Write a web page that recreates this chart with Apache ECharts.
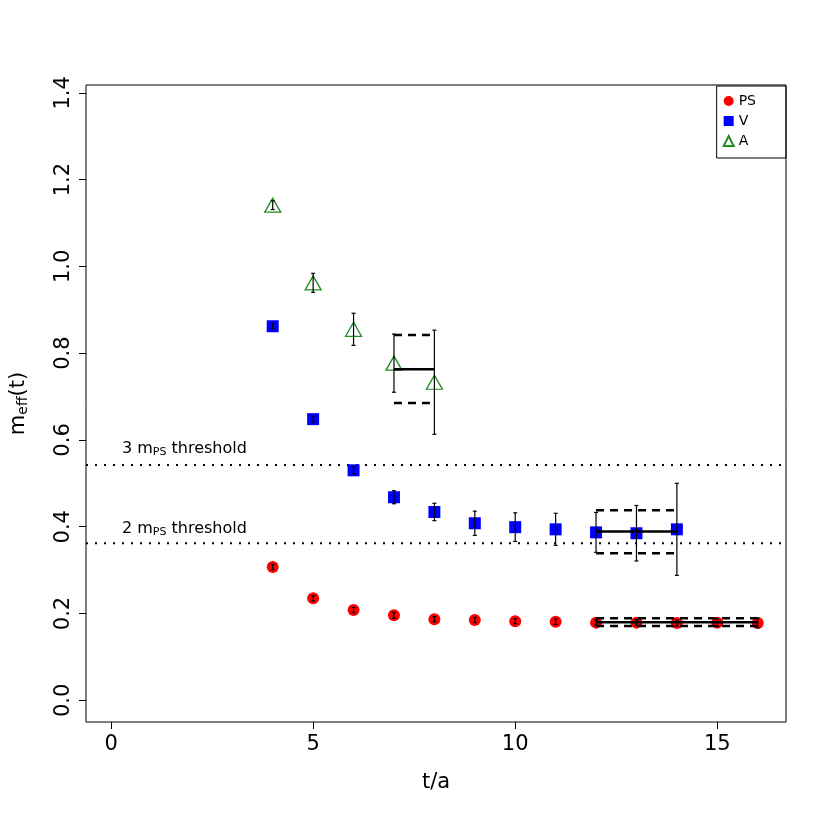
<!DOCTYPE html>
<html><head><meta charset="utf-8">
<script src="https://cdn.jsdelivr.net/npm/echarts@6/dist/echarts.min.js"></script>
<style>html,body{margin:0;padding:0;background:#fff}#c{width:830px;height:830px}</style>
</head><body><div id="c"></div>
<script>
const psT = [4,5,6,7,8,9,10,11,12,13,14,15,16];
const psY = [0.307,0.235,0.208,0.196,0.187,0.185,0.182,0.181,0.179,0.179,0.178,0.179,0.178];
const psE = [0.006,0.006,0.006,0.007,0.006,0.006,0.006,0.006,0.006,0.007,0.007,0.009,0.011];
const vT = [4,5,6,7,8,9,10,11,12,13,14];
const vY = [0.862,0.648,0.530,0.468,0.434,0.408,0.399,0.394,0.387,0.385,0.394];
const vE = [0.006,0.007,0.008,0.015,0.02,0.028,0.033,0.037,0.046,0.064,0.106];
const aT = [4,5,6,7,8];
const aY = [1.141,0.962,0.855,0.777,0.733];
const aE = [0.01,0.022,0.037,0.067,0.12];
const fitPS = {t0:12,t1:16,m:0.180,lo:0.171,hi:0.189};
const fitV = {t0:12,t1:14,m:0.389,lo:0.339,hi:0.438};
const fitA = {t0:7,t1:8,m:0.763,lo:0.685,hi:0.842};
const thr3 = 0.542, thr2 = 0.362;
const xTicks = [0,5,10,15];
const yTicks = [0,0.2,0.4,0.6,0.8,1.0,1.2,1.4];

const chart = echarts.init(document.getElementById('c'));
function errSeries(T,Y,E){
  return {type:'custom',silent:true,z:5,data:T.map((t,i)=>[t,Y[i]-E[i],Y[i]+E[i]]),
    renderItem:(p,api)=>{
      const a=api.coord([api.value(0),api.value(1)]), b=api.coord([api.value(0),api.value(2)]);
      const st={stroke:'#000',lineWidth:1.2};
      return {type:'group',children:[
        {type:'line',shape:{x1:a[0],y1:a[1],x2:b[0],y2:b[1]},style:st},
        {type:'line',shape:{x1:a[0]-2,y1:a[1],x2:a[0]+2,y2:a[1]},style:st},
        {type:'line',shape:{x1:b[0]-2,y1:b[1],x2:b[0]+2,y2:b[1]},style:st}]};
    }};
}
function fitSeries(f){
  const mk=(v,dash,w)=>({type:'line',silent:true,symbol:'none',z:4,data:[[f.t0,v],[f.t1,v]],
    lineStyle:{color:'#000',width:w,type:dash?[8,6]:'solid'}});
  return [mk(f.m,false,2.5),mk(f.lo,true,2.5),mk(f.hi,true,2.5)];
}
function thrLine(v){
  return {type:'line',silent:true,symbol:'none',data:[[-0.62,v],[16.7,v]],
    lineStyle:{color:'#000',width:2,type:[2,7]}};
}
const rich={a:{fontSize:16,fill:'#000',color:'#000',fontFamily:'DejaVu Sans'},b:{fontSize:11,fill:'#000',color:'#000',fontFamily:'DejaVu Sans',padding:[7,0,0,0]}};
chart.setOption({
  animation:false,
  grid:{left:86,right:44,top:85,bottom:108,show:true,borderColor:'#000',borderWidth:1},
  xAxis:{type:'value',min:-0.62,max:16.7,interval:5,
    axisLine:{show:false,onZero:false},splitLine:{show:false},
    axisTick:{show:true,length:7,lineStyle:{color:'#000'},customValues:xTicks},
    axisLabel:{color:'#000',fontSize:21,fontFamily:'DejaVu Sans',margin:12,customValues:xTicks},
    name:'t/a',nameLocation:'middle',nameGap:50,nameTextStyle:{color:'#000',fontSize:21,fontFamily:'DejaVu Sans'}},
  yAxis:{type:'value',min:-0.05,max:1.418,
    axisLine:{show:false,onZero:false},splitLine:{show:false},
    axisTick:{show:true,length:7,lineStyle:{color:'#000'},customValues:yTicks},
    axisLabel:{color:'#000',fontSize:21,fontFamily:'DejaVu Sans',rotate:90,margin:12,
      customValues:yTicks,formatter:v=>v.toFixed(1)},
    name:'{a|m}{b|eff}{a|(t)}',nameLocation:'middle',nameGap:56,nameRotate:90,
    nameTextStyle:{rich:{a:{fontSize:21,color:'#000',fontFamily:'DejaVu Sans'},b:{fontSize:14,color:'#000',fontFamily:'DejaVu Sans',padding:[9,0,0,0]}}}},
  legend:{right:44,top:86,orient:'vertical',borderColor:'#000',borderWidth:1,borderRadius:0,
    padding:[8,30,10,6],itemGap:6,itemWidth:10,itemHeight:10,
    textStyle:{fontSize:14,color:'#000',fontFamily:'DejaVu Sans'},data:['PS','V','A']},
  graphic:[
    {type:'text',left:122,top:441,style:{rich,text:'{a|3 m}{b|PS}{a| threshold}'}},
    {type:'text',left:122,top:521,style:{rich,text:'{a|2 m}{b|PS}{a| threshold}'}}
  ],
  series:[
    thrLine(thr3),thrLine(thr2),
    ...fitSeries(fitPS),...fitSeries(fitV),...fitSeries(fitA),
    {name:'PS',type:'scatter',symbol:'circle',symbolSize:12,z:3,itemStyle:{color:'#ff0000',opacity:1},data:psT.map((t,i)=>[t,psY[i]])},
    {name:'V',type:'scatter',symbol:'rect',symbolSize:12,z:3,itemStyle:{color:'#0000ff',opacity:1},data:vT.map((t,i)=>[t,vY[i]])},
    {name:'A',type:'scatter',symbol:'triangle',symbolSize:[16,14],z:3,itemStyle:{color:'rgba(0,0,0,0)',borderColor:'#228b22',borderWidth:1.3,opacity:1},data:aT.map((t,i)=>[t,aY[i]])},
    errSeries(psT,psY,psE),errSeries(vT,vY,vE),errSeries(aT,aY,aE)
  ]
});
</script></body></html>
